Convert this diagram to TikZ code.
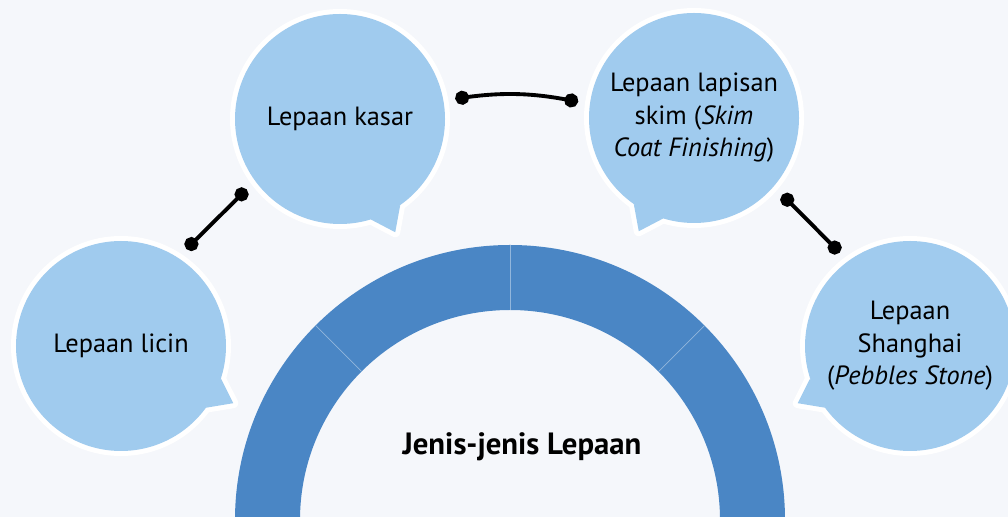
\documentclass[tikz,border=0pt]{standalone}
\usepackage{fontspec}
\setmainfont{PT Sans}
\usetikzlibrary{arrows.meta, calc, backgrounds}
\definecolor{bubblue}{HTML}{A0CBEE}
\definecolor{ringblue}{HTML}{4A86C5}
\definecolor{paper}{HTML}{F5F7FB}

\begin{document}
\begin{tikzpicture}[
  bubble/.style={circle, minimum size=4.2cm, inner sep=0pt, outer sep=0.24cm,
    align=center, font=\fontsize{15}{18.5}\selectfont},
  link/.style={line width=2.2pt, {Circle[length=8pt]}-{Circle[length=8pt]}}
]
\useasboundingbox (0,0) rectangle (20.16,10.34);

% Bubbles
\node[bubble] (licin) at (2.42,3.42) {Lepaan licin};
\node[bubble] (kasar) at (6.80,7.96) {Lepaan kasar};
\node[bubble] (skim) at (13.88,7.98) {Lepaan lapisan\\skim (\textit{Skim}\\\textit{Coat Finishing})};
\node[bubble] (shanghai) at (18.20,3.42) {Lepaan\\Shanghai\\(\textit{Pebbles Stone})};

% Centre label
\node[font=\fontsize{17.5}{20}\selectfont\bfseries] (jenis) at (10.44,1.40) {Jenis-jenis Lepaan};

% Links between bubbles
\draw[link] (licin.56) -- (kasar.217);
\draw[link] (kasar.10) to[bend left=9] (skim.172);
\draw[link] (skim.-41) -- (shanghai.127);

\begin{scope}[on background layer]
  \clip (0,0) rectangle (20.16,10.34);
  \fill[paper] (0,0) rectangle (20.16,10.34);
  % half ring
  \fill[ringblue] (10.2,-0.06) ++(0:5.5) arc[start angle=0, end angle=180, radius=5.5]
    -- ++(1.3,0) arc[start angle=180, end angle=0, radius=4.2] -- cycle;
  \foreach \a in {45,90,135}
    \draw[ringblue!60!white, line width=0.4pt] ($(10.2,-0.06)+(\a:4.2)$) -- ($(10.2,-0.06)+(\a:5.5)$);
  % bubble bodies with pointers
  \foreach \n/\t in {licin/-27, kasar/-64, skim/-116, shanghai/-153} {
    \draw[white, line width=0.2cm] (\n.center) circle (2.1);
    \draw[white, line width=0.2cm, line join=round] ($(\n.center)+(\t-9:2.1)$) -- ($(\n.center)+(\t:2.52)$) -- ($(\n.center)+(\t+9:2.1)$) -- cycle;
    \fill[bubblue] ($(\n.center)+(\t-9:2.1)$) -- ($(\n.center)+(\t:2.52)$) -- ($(\n.center)+(\t+9:2.1)$) -- cycle;
    \fill[bubblue] (\n.center) circle (2.1);
  }
\end{scope}

\end{tikzpicture}
\end{document}
